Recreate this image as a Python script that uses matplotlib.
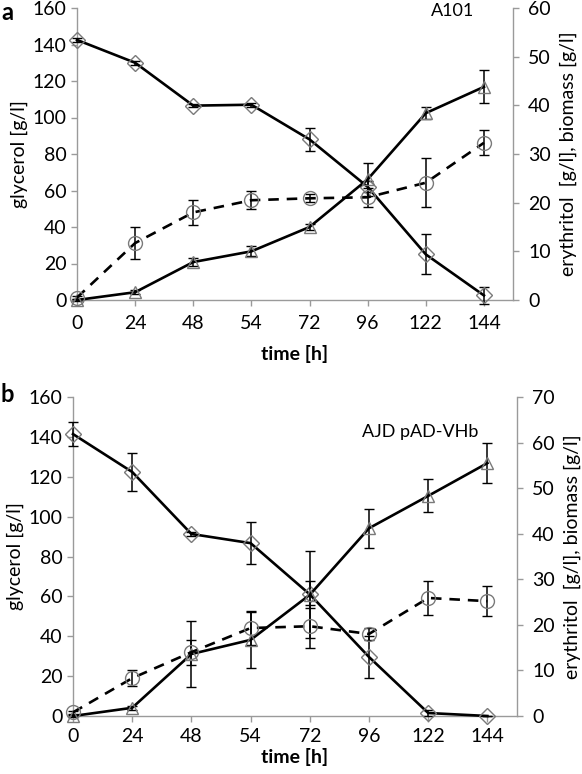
import numpy as np
import matplotlib
matplotlib.use("Agg")
import matplotlib.pyplot as plt

plt.rcParams['font.family'] = ['Lato', 'DejaVu Sans']

time_labels = ["0", "24", "48", "54", "72", "96", "122", "144"]

# Panel a (A101)
a_glycerol = [142.5, 130, 106.5, 107, 88, 62, 25, 2.5]
a_glycerol_err = [1, 1, 1, 1, 6.3, 3, 11, 4.5]
a_erythritol = [0, 1.6, 7.8, 10, 15, 24.8, 38.4, 43.8]
a_erythritol_err = [0.3, 0.4, 0.8, 1.0, 0.6, 3.4, 1.2, 3.4]
a_biomass = [0.5, 11.7, 18, 20.5, 20.9, 21.1, 24.1, 32.3]
a_biomass_err = [0.3, 3.3, 2.6, 1.9, 0.8, 2.0, 5.0, 2.6]

# Panel b (AJD pAD-VHb)
b_glycerol = [141.4, 122.4, 91.3, 86.7, 61, 29.6, 1.5, 0]
b_glycerol_err = [6, 9.5, 1, 10.7, 22, 10.5, 1.5, 0]
b_erythritol = [0, 1.8, 13.6, 16.7, 26.6, 41.2, 48.3, 55.5]
b_erythritol_err = [0.2, 0.4, 7.2, 6.2, 3.0, 4.3, 3.6, 4.4]
b_biomass = [0.8, 8.3, 14, 19.3, 19.7, 18, 25.9, 25.2]
b_biomass_err = [0.3, 1.8, 2.7, 3.8, 4.7, 1.3, 3.8, 3.3]

W, H = 582, 774
fig = plt.figure(figsize=(W / 100, H / 100), dpi=100)

GRAY = "#9a9a9a"
MK = "#7a7a7a"
FS = 14


def panel(rect, gly, gly_e, ery, ery_e, bio, bio_e, ymax_r, rticks, name, name_xy,
          letter, letter_xy, xpad, xlabpad):
    ax = fig.add_axes(rect)
    x = np.arange(len(time_labels))
    ax.errorbar(x, gly, yerr=gly_e, color="black", lw=1.9, capsize=3.5,
                elinewidth=1.1, capthick=1.1, marker="D", ms=8,
                mfc="none", mec=MK, mew=1.0, clip_on=False, zorder=3)
    ax.set_xlim(0, 7.5)
    ax.set_ylim(0, 160)
    ax.set_yticks(np.arange(0, 161, 20))
    ax.set_xticks(x)
    ax.set_xticklabels(time_labels)
    ax.set_ylabel("glycerol [g/l]", fontsize=FS, labelpad=3)
    ax.set_xlabel("time [h]", fontsize=FS, fontweight="bold", labelpad=xlabpad)
    for s in ["top", "right"]:
        ax.spines[s].set_visible(False)
    for s in ["left", "bottom"]:
        ax.spines[s].set_color(GRAY)
        ax.spines[s].set_linewidth(1.0)
    ax.tick_params(axis="both", colors=GRAY, labelcolor="black", labelsize=FS,
                   length=4, width=1.0, direction="out")
    ax.tick_params(axis="x", pad=xpad)

    ax2 = ax.twinx()
    ax2.errorbar(x, ery, yerr=ery_e, color="black", lw=1.9, capsize=3.5,
                 elinewidth=1.1, capthick=1.1, marker="^", ms=9,
                 mfc="none", mec=MK, mew=1.0, clip_on=False, zorder=3)
    ax2.errorbar(x, bio, yerr=bio_e, color="black", lw=1.9, ls=(0, (4, 3)),
                 capsize=3.5, elinewidth=1.1, capthick=1.1, marker="o", ms=10,
                 mfc="none", mec=MK, mew=1.0, clip_on=False, zorder=3)
    ax2.set_ylim(0, ymax_r)
    ax2.set_yticks(rticks)
    ax2.set_ylabel("erythritol  [g/l], biomass [g/l]", fontsize=FS, labelpad=6)
    for s in ["top", "left", "bottom"]:
        ax2.spines[s].set_visible(False)
    ax2.spines["right"].set_color(GRAY)
    ax2.spines["right"].set_linewidth(1.0)
    ax2.tick_params(axis="y", colors=GRAY, labelcolor="black", labelsize=FS,
                    length=4, width=1.0, direction="out", pad=7)
    ax2.set_xlim(0, 7.5)

    fig.text(name_xy[0], name_xy[1], name, fontsize=FS - 1, ha="center", va="center")
    fig.text(letter_xy[0], letter_xy[1], letter, fontsize=FS + 3, fontweight="bold",
             ha="left", va="top")
    return ax, ax2


panel([77 / W, 1 - 300 / H, 436 / W, 292 / H],
      a_glycerol, a_glycerol_err, a_erythritol, a_erythritol_err,
      a_biomass, a_biomass_err, 60, np.arange(0, 61, 10),
      "A101", (453 / W, 1 - 11 / H), "a", (1 / W, 1 - 1 / H), 7, 9)

panel([73 / W, 1 - 716 / H, 444 / W, 319 / H],
      b_glycerol, b_glycerol_err, b_erythritol, b_erythritol_err,
      b_biomass, b_biomass_err, 70, np.arange(0, 71, 10),
      "AJD pAD-VHb", (420 / W, 1 - 432 / H), "b", (1 / W, 1 - 383 / H), 5, 2)

fig.savefig("out.png", dpi=100)
